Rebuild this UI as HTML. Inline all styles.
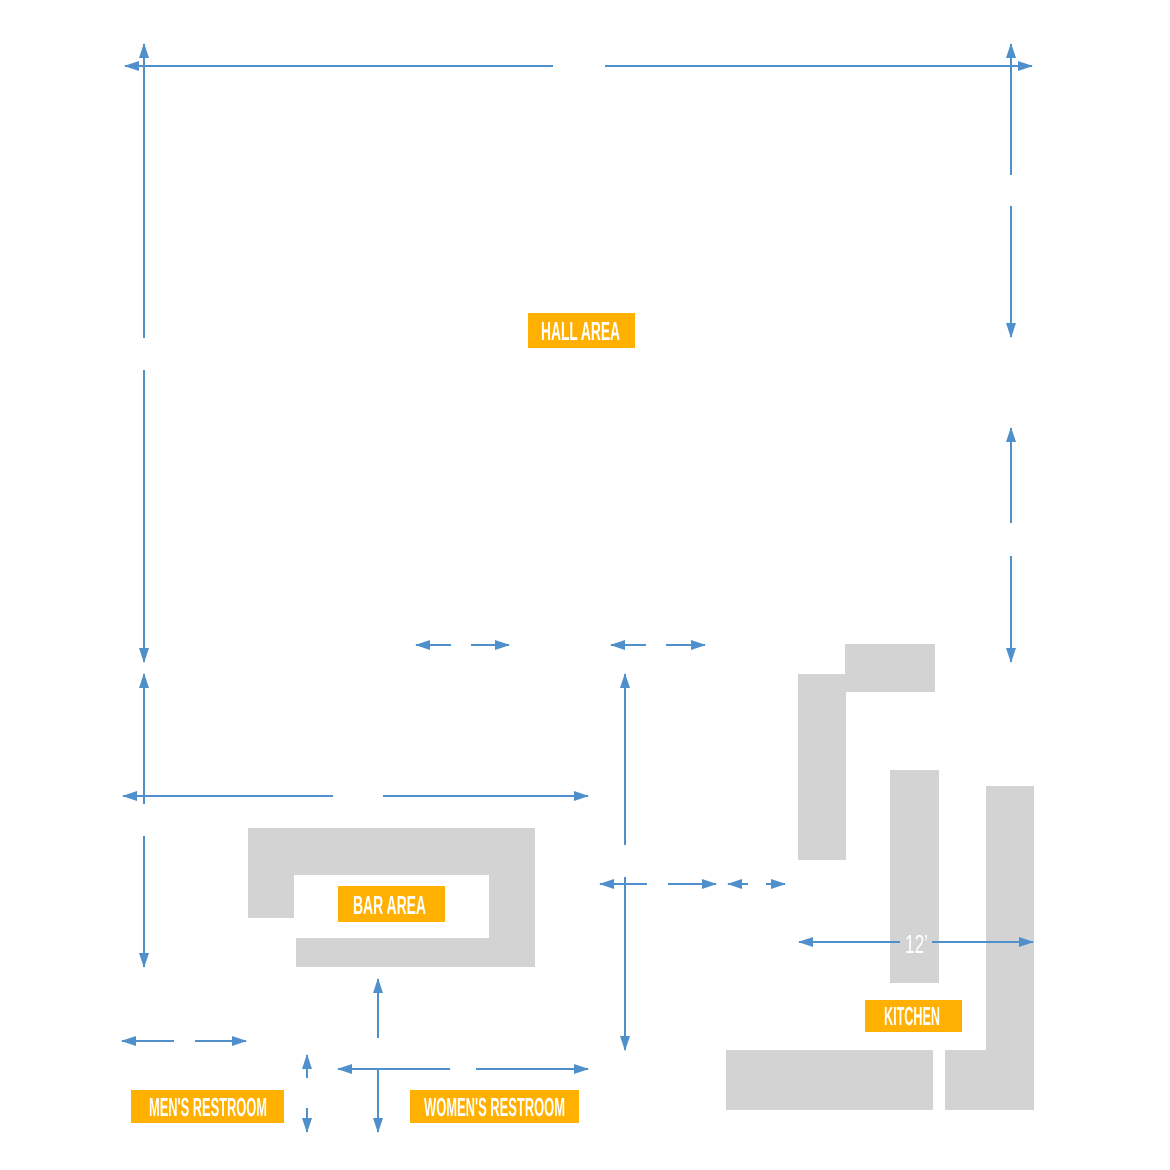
<!DOCTYPE html>
<html><head><meta charset="utf-8"><style>html,body{margin:0;padding:0;background:#fff}svg{display:block}</style></head><body>
<svg width="1170" height="1170" viewBox="0 0 1170 1170" xmlns="http://www.w3.org/2000/svg">
<defs>
<marker id="a" markerUnits="userSpaceOnUse" markerWidth="16" markerHeight="12" refX="14" refY="6" orient="auto-start-reverse">
<path d="M0,1 L15,6 L0,11 Z" fill="#4f90cc"/></marker>
</defs>
<g fill="#d3d3d3">
<rect x="845" y="644" width="90" height="48"/>
<rect x="798" y="674" width="48" height="186"/>
<rect x="890" y="770" width="49" height="213"/>
<rect x="986" y="786" width="48" height="324"/>
<rect x="945" y="1050" width="42" height="60"/>
<rect x="726" y="1050" width="207" height="60"/>
<rect x="248" y="828" width="287" height="47"/>
<rect x="248" y="828" width="46" height="90"/>
<rect x="489" y="828" width="46" height="139"/>
<rect x="296" y="938" width="193" height="29"/>
</g>
<g stroke="#4f90cc" stroke-width="2" fill="none">
<line x1="553" y1="66" x2="125" y2="66" marker-end="url(#a)"/>
<line x1="605" y1="66" x2="1032" y2="66" marker-end="url(#a)"/>
<line x1="144" y1="338" x2="144" y2="44" marker-end="url(#a)"/>
<line x1="144" y1="370" x2="144" y2="662" marker-end="url(#a)"/>
<line x1="1011" y1="175" x2="1011" y2="44" marker-end="url(#a)"/>
<line x1="1011" y1="206" x2="1011" y2="337" marker-end="url(#a)"/>
<line x1="1011" y1="523" x2="1011" y2="428" marker-end="url(#a)"/>
<line x1="1011" y1="556" x2="1011" y2="662" marker-end="url(#a)"/>
<line x1="451" y1="645" x2="416" y2="645" marker-end="url(#a)"/>
<line x1="471" y1="645" x2="509" y2="645" marker-end="url(#a)"/>
<line x1="646" y1="645" x2="611" y2="645" marker-end="url(#a)"/>
<line x1="666" y1="645" x2="705" y2="645" marker-end="url(#a)"/>
<line x1="144" y1="804" x2="144" y2="674" marker-end="url(#a)"/>
<line x1="144" y1="836" x2="144" y2="967" marker-end="url(#a)"/>
<line x1="333" y1="796" x2="123" y2="796" marker-end="url(#a)"/>
<line x1="383" y1="796" x2="588" y2="796" marker-end="url(#a)"/>
<line x1="625" y1="845" x2="625" y2="674" marker-end="url(#a)"/>
<line x1="625" y1="877" x2="625" y2="1050" marker-end="url(#a)"/>
<line x1="647" y1="884" x2="600" y2="884" marker-end="url(#a)"/>
<line x1="668" y1="884" x2="716" y2="884" marker-end="url(#a)"/>
<line x1="748" y1="884" x2="728" y2="884" marker-end="url(#a)"/>
<line x1="766" y1="884" x2="785" y2="884" marker-end="url(#a)"/>
<line x1="900" y1="942" x2="799" y2="942" marker-end="url(#a)"/>
<line x1="932" y1="942" x2="1033" y2="942" marker-end="url(#a)"/>
<line x1="174" y1="1041" x2="122" y2="1041" marker-end="url(#a)"/>
<line x1="195" y1="1041" x2="246" y2="1041" marker-end="url(#a)"/>
<line x1="307" y1="1078" x2="307" y2="1055" marker-end="url(#a)"/>
<line x1="307" y1="1108" x2="307" y2="1132" marker-end="url(#a)"/>
<line x1="378" y1="1038" x2="378" y2="979" marker-end="url(#a)"/>
<line x1="378" y1="1069" x2="378" y2="1132" marker-end="url(#a)"/>
<line x1="450" y1="1069" x2="338" y2="1069" marker-end="url(#a)"/>
<line x1="476" y1="1069" x2="588" y2="1069" marker-end="url(#a)"/>
</g>
<g fill="#ffb000">
<rect x="528" y="313" width="107" height="35"/>
<rect x="338" y="886" width="107" height="36"/>
<rect x="131" y="1090" width="153" height="33"/>
<rect x="410" y="1090" width="169" height="33"/>
<rect x="865" y="1000" width="97" height="32"/>
</g>
<g fill="#fff" font-family="Liberation Sans Narrow, Liberation Sans, sans-serif" font-size="26" font-weight="bold">
<text x="541" y="340" textLength="79" lengthAdjust="spacingAndGlyphs">HALL AREA</text>
<text x="353" y="914" textLength="73" lengthAdjust="spacingAndGlyphs">BAR AREA</text>
<text x="149" y="1116" textLength="118" lengthAdjust="spacingAndGlyphs">MEN'S RESTROOM</text>
<text x="424" y="1116" textLength="141" lengthAdjust="spacingAndGlyphs">WOMEN'S RESTROOM</text>
<text x="884" y="1025" textLength="56" lengthAdjust="spacingAndGlyphs">KITCHEN</text>
<text x="905" y="953" textLength="23" lengthAdjust="spacingAndGlyphs" font-weight="normal">12’</text>
</g>
</svg>
</body></html>
